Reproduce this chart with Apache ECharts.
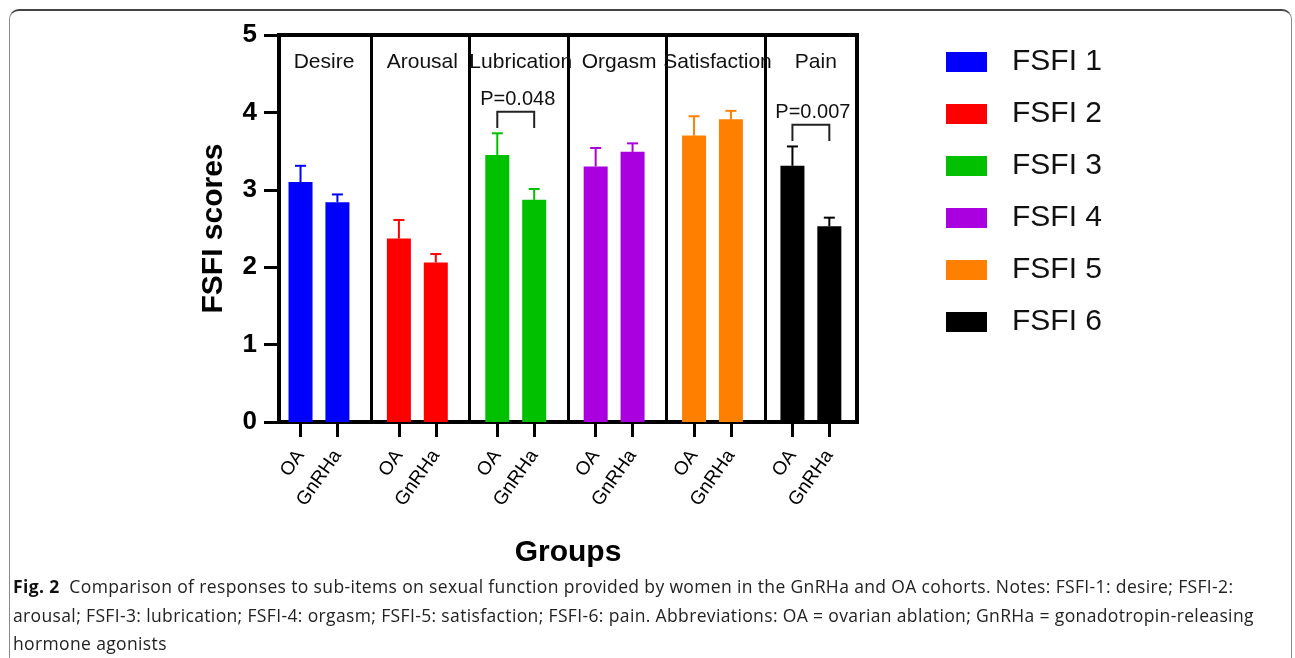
<!DOCTYPE html>
<html>
<head>
<meta charset="utf-8">
<script src="https://cdn.jsdelivr.net/npm/echarts@6/dist/echarts.min.js"></script>
<style>
html,body{margin:0;padding:0;background:#fff;width:1295px;height:658px;overflow:hidden;}
#frame{position:absolute;left:9px;top:9px;width:1283px;height:720px;border:1px solid #8a8a8a;border-top:2px solid #444;border-radius:10px;box-sizing:border-box;}
#chart{position:absolute;left:0;top:0;width:1295px;height:658px;}
#caption{position:absolute;left:13px;top:572px;font-family:'Open Sans',sans-serif;font-size:17.5px;letter-spacing:0.36px;line-height:28.5px;color:#222;white-space:nowrap;}
#caption b{font-weight:700;color:#111;}
</style>
</head>
<body>
<div id="frame"></div>
<div id="chart"></div>
<div id="caption"><b>Fig. 2</b>&nbsp; Comparison of responses to sub-items on sexual function provided by women in the GnRHa and OA cohorts. Notes: FSFI-1: desire; FSFI-2:<br>arousal; FSFI-3: lubrication; FSFI-4: orgasm; FSFI-5: satisfaction; FSFI-6: pain. Abbreviations: OA = ovarian ablation; GnRHa = gonadotropin-releasing<br>hormone agonists</div>
<script>
// ---- data ----
const groups = ['Desire', 'Arousal', 'Lubrication', 'Orgasm', 'Satisfaction', 'Pain'];
const seriesNames = ['FSFI 1', 'FSFI 2', 'FSFI 3', 'FSFI 4', 'FSFI 5', 'FSFI 6'];
const cohorts = ['OA', 'GnRHa'];
const oaMean = [3.10, 2.37, 3.45, 3.30, 3.70, 3.31];
const oaSEM = [0.21, 0.24, 0.28, 0.24, 0.25, 0.25];
const gnrhaMean = [2.84, 2.06, 2.87, 3.49, 3.91, 2.53];
const gnrhaSEM = [0.10, 0.11, 0.14, 0.11, 0.11, 0.11];
const pLabels = ['', '', 'P=0.048', '', '', 'P=0.007'];
const yTicks = [0, 1, 2, 3, 4, 5];
const colors = ['#0000ff', '#ff0000', '#00c000', '#aa00e0', '#ff8000', '#000000'];

// ---- layout of category slots ----
const SLOTS = 94, OA_SLOT0 = 3, PAIR = 6, GROUP = 16;
const oaIdx = g => OA_SLOT0 + g * GROUP;
const gnIdx = g => oaIdx(g) + PAIR;
const cats = Array.from({length: SLOTS}, () => '');
groups.forEach((_, g) => { cats[oaIdx(g)] = cohorts[0]; cats[gnIdx(g)] = cohorts[1]; });
const separators = groups.slice(1).map((_, i) => oaIdx(i + 1) - 4);

const FONT = "'Liberation Sans', Arial, sans-serif";

const barSeries = groups.map((_, g) => {
  const d = new Array(SLOTS).fill(null);
  d[oaIdx(g)] = oaMean[g];
  d[gnIdx(g)] = gnrhaMean[g];
  return {
    name: seriesNames[g], type: 'bar', data: d, barWidth: 24, barGap: '-100%',
    itemStyle: {color: colors[g]}, z: 2
  };
});

const errData = [];
groups.forEach((_, g) => {
  errData.push([oaIdx(g), oaMean[g], oaSEM[g], g]);
  errData.push([gnIdx(g), gnrhaMean[g], gnrhaSEM[g], g]);
});

const bracketData = [];
pLabels.forEach((p, g) => {
  if (!p) return;
  const top = Math.max(oaMean[g] + oaSEM[g], gnrhaMean[g] + gnrhaSEM[g]);
  bracketData.push([oaIdx(g), gnIdx(g), top + 0.07, top + 0.28, g]);
});

const titleData = groups.map((_, g) => [oaIdx(g) + PAIR / 2, 4.65, g]);

const option = {
  animation: false,
  textStyle: {fontFamily: FONT},
  grid: {left: 279, top: 35, width: 578, height: 387, show: true, borderColor: '#000', borderWidth: 4},
  legend: {
    data: seriesNames, orient: 'vertical', left: 941, top: 42,
    itemWidth: 41, itemHeight: 20, itemGap: 22, icon: 'rect',
    textStyle: {fontSize: 30, color: '#111', fontFamily: FONT, padding: [0, 0, 0, 20]}
  },
  xAxis: {
    type: 'category', data: cats, boundaryGap: true,
    name: 'Groups', nameLocation: 'middle', nameGap: 116,
    nameTextStyle: {fontSize: 30, fontWeight: 'bold', color: '#000', fontFamily: FONT},
    axisLine: {lineStyle: {color: '#000', width: 4}},
    axisTick: {show: true, alignWithLabel: true, length: 15, lineStyle: {color: '#000', width: 3},
      interval: (i) => cats[i] !== ''},
    axisLabel: {interval: (i) => cats[i] !== '', rotate: 55, fontSize: 19, color: '#000', margin: 30, fontFamily: FONT},
    splitLine: {show: true, interval: (i) => separators.indexOf(i) >= 0, lineStyle: {color: '#000', width: 3}}
  },
  yAxis: {
    type: 'value', min: yTicks[0], max: yTicks[yTicks.length - 1], interval: 1,
    name: 'FSFI scores', nameLocation: 'middle', nameGap: 50,
    nameTextStyle: {fontSize: 30, fontWeight: 'bold', color: '#000', fontFamily: FONT},
    axisLine: {show: true, lineStyle: {color: '#000', width: 4}},
    axisTick: {show: true, length: 15, lineStyle: {color: '#000', width: 3}},
    axisLabel: {fontSize: 26, fontWeight: 'bold', color: '#000', margin: 22, fontFamily: FONT},
    splitLine: {show: false}
  },
  series: barSeries.concat([
    {
      type: 'custom', name: 'err', data: errData, z: 3, silent: true,
      renderItem: (params, api) => {
        const x = api.value(0), y = api.value(1), e = api.value(2), c = colors[api.value(3)];
        const p0 = api.coord([x, y]), p1 = api.coord([x, y + e]);
        return {type: 'group', children: [
          {type: 'line', shape: {x1: p0[0], y1: p0[1], x2: p1[0], y2: p1[1]}, style: {stroke: c, lineWidth: 2}},
          {type: 'line', shape: {x1: p1[0] - 5.5, y1: p1[1], x2: p1[0] + 5.5, y2: p1[1]}, style: {stroke: c, lineWidth: 2}}
        ]};
      }
    },
    {
      type: 'custom', name: 'brackets', data: bracketData, z: 4, silent: true,
      renderItem: (params, api) => {
        const a = api.value(0), b = api.value(1), lo = api.value(2), hi = api.value(3), g = api.value(4);
        const pa = api.coord([a, lo]), pat = api.coord([a, hi]), pb = api.coord([b, lo]), pbt = api.coord([b, hi]);
        const mid = api.coord([(a + b) / 2, hi + 0.16]);
        return {type: 'group', children: [
          {type: 'polyline', shape: {points: [pa, pat, pbt, pb]}, style: {stroke: '#222', lineWidth: 2, fill: null}},
          {type: 'text', x: mid[0] + 2, y: mid[1], style: {text: pLabels[g], fontSize: 20, fontFamily: FONT, fill: '#111', align: 'center', verticalAlign: 'middle'}}
        ]};
      }
    },
    {
      type: 'custom', name: 'titles', data: titleData, z: 4, silent: true,
      renderItem: (params, api) => {
        const p = api.coord([api.value(0), api.value(1)]);
        return {type: 'text', x: p[0] + 5, y: p[1], style: {text: groups[api.value(2)], fontSize: 21, fontFamily: FONT, fill: '#111', align: 'center', verticalAlign: 'middle'}};
      }
    }
  ])
};

const chart = echarts.init(document.getElementById('chart'), null, {renderer: 'canvas'});
chart.setOption(option);
</script>
</body>
</html>
